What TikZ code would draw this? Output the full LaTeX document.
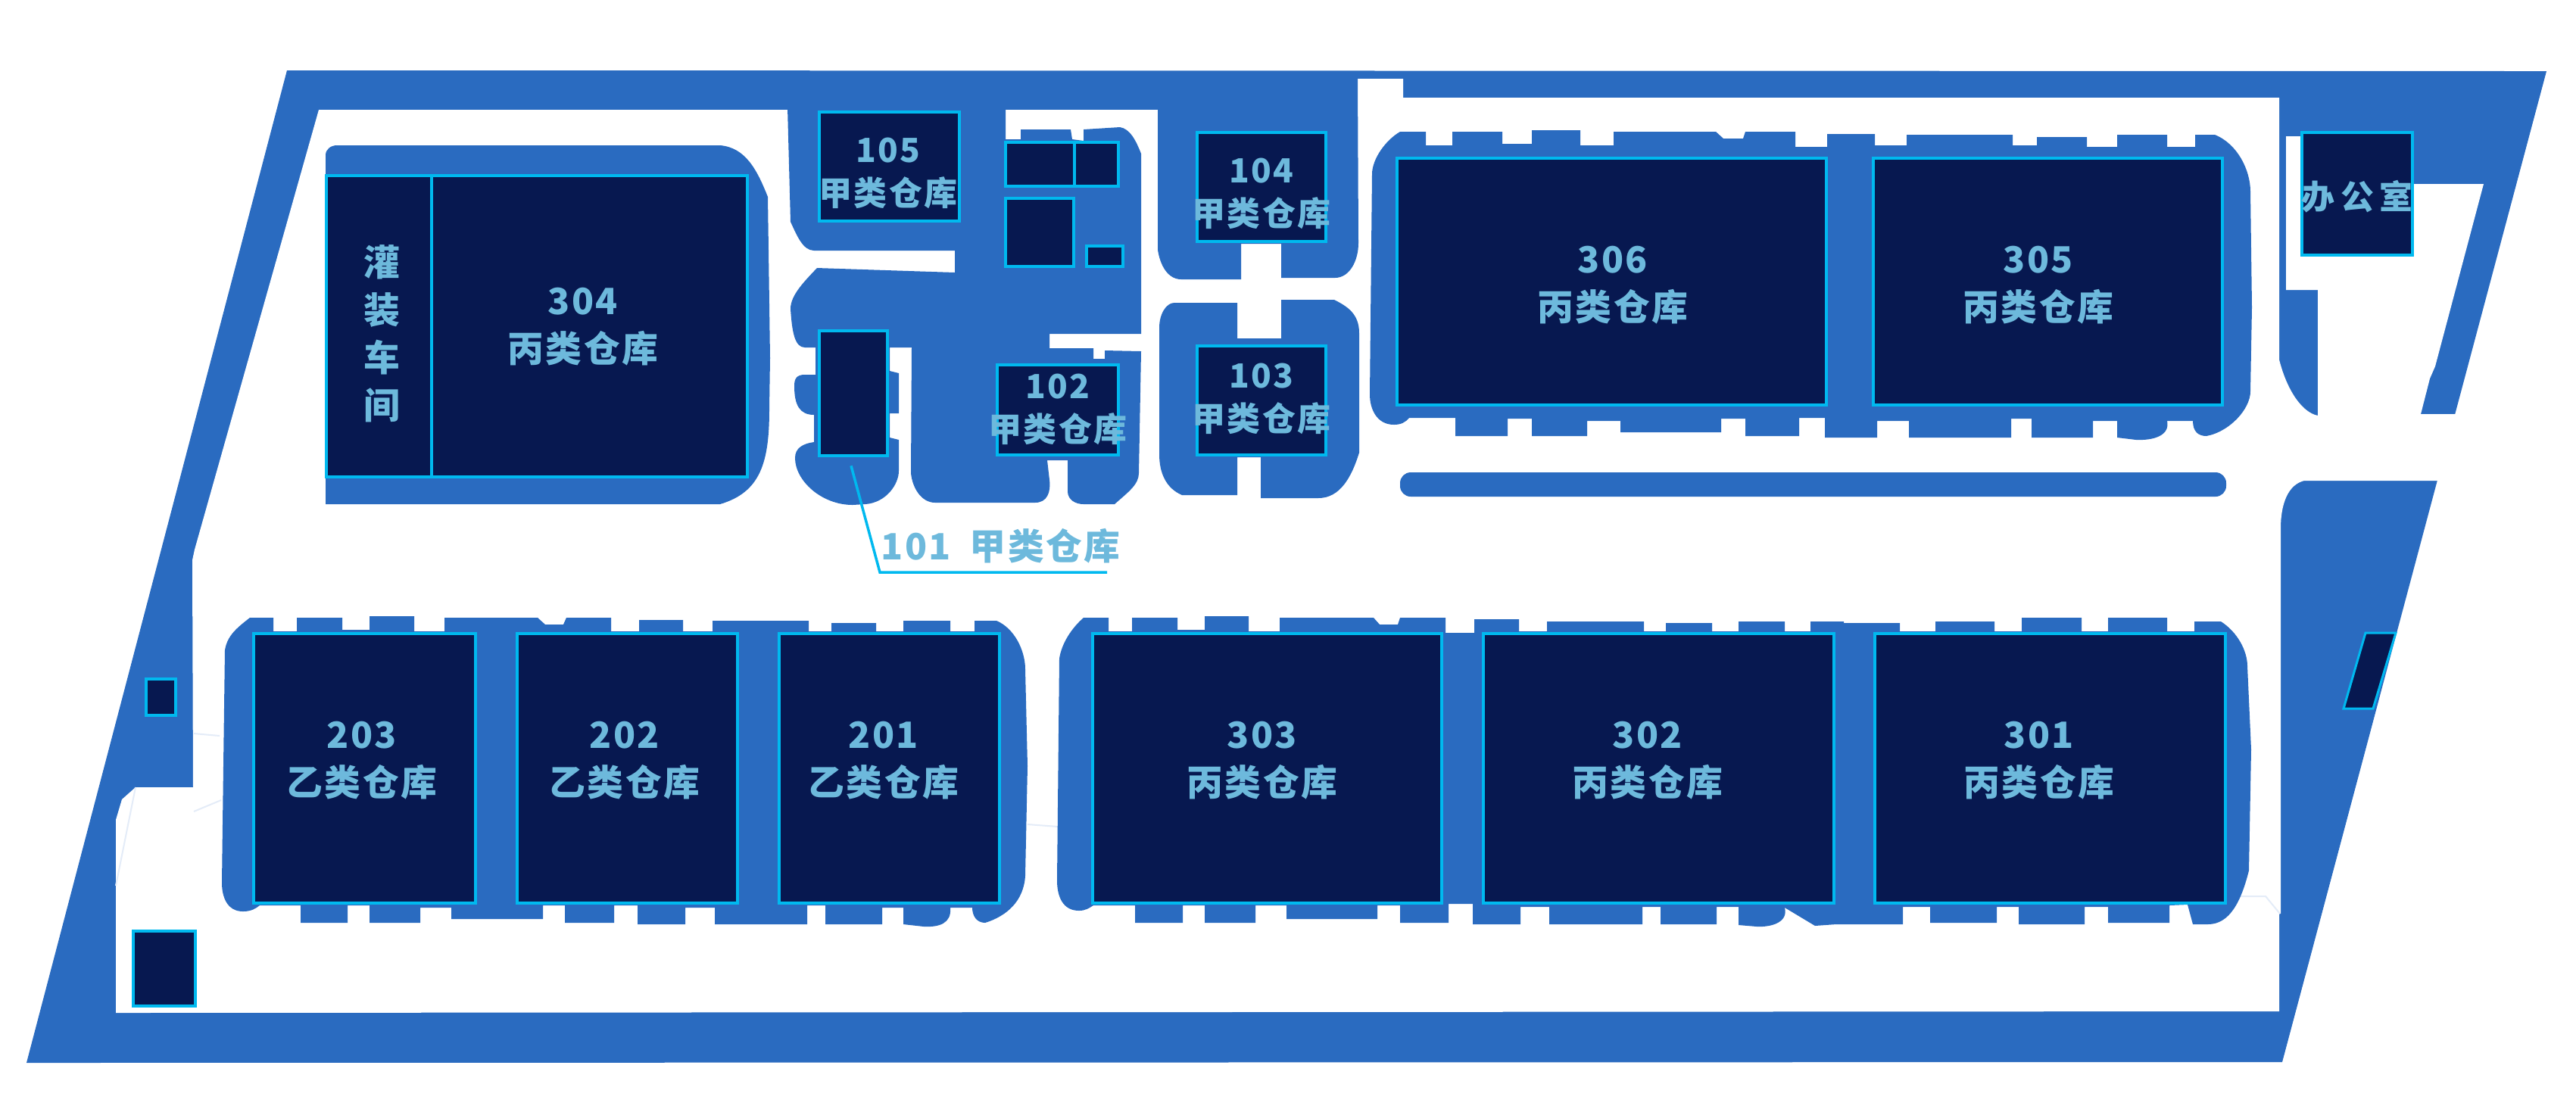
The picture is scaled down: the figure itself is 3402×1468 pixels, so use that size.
\documentclass[tikz,border=0pt]{standalone}
\usepackage{fontspec}
\setmainfont{Noto Sans CJK SC}[LetterSpace=5]
\definecolor{padblue}{HTML}{2A6BC0}
\definecolor{navyfill}{HTML}{071850}
\definecolor{edgecyan}{HTML}{00B9EF}
\definecolor{labblue}{HTML}{6DB9DC}
\definecolor{paleline}{HTML}{E4ECF8}
\begin{document}
\begin{tikzpicture}[
  x=0.01cm, y=-0.01cm,
  pad/.style={fill=padblue},
  road/.style={fill=white},
  ware/.style 2 args={draw=edgecyan,fill=navyfill,line width=0.046cm,inner sep=0pt,
    minimum width=#1*0.01cm,minimum height=#2*0.01cm},
  lab/.style={font=\fontsize{13.6}{17.9}\selectfont\bfseries,text=labblue,align=center,inner sep=0pt},
  labsmall/.style={font=\fontsize{12.5}{16.2}\selectfont\bfseries,text=labblue,align=center,inner sep=0pt},
  leader/.style={draw=edgecyan,line width=0.035cm},
  faint/.style={draw=paleline,line width=0.02cm}
]
  \useasboundingbox (0,0) rectangle (3402,1468);
  % --- ground ---
  \fill[pad] (379,93) -- (3363,94) -- (3014,1403) -- (35,1404) -- cycle;
  \fill[road] (421,145) -- (1793,145) -- (1793,104) -- (1853,104) -- (1853,129) -- (3010,129)
    -- (3010,475) .. controls (3020,515) and (3040,545) .. (3061,549)
    -- (3061,383) -- (3019,383) -- (3019,180) -- (3100,180) -- (3100,243) -- (3280,243)
    -- (3216,484) -- (3209,500) -- (3197,547) -- (3400,547) -- (3400,635) -- (3043,635)
    .. controls (3022,640) and (3012,665) .. (3012,698)
    -- (3012,1207) -- (3010,1207) -- (3010,1336) -- (153,1338) -- (153,1083) -- (161,1056)
    -- (179,1040) -- (255,1040) -- (254,740) -- (257,726) -- cycle;
  \draw[faint] (2957,1184) -- (2992,1184) -- (3011,1207);
  \draw[faint] (256,969) -- (290,972);
  \draw[faint] (179,1040) -- (153,1170);
  \draw[faint] (256,1072) -- (292,1057);
  \draw[faint] (1357,1089) -- (1397,1092);
  % --- 304 block ---
  \fill[pad] (430,205) .. controls (430,197) and (437,192) .. (445,192) -- (951,192)
    .. controls (985,195) and (1000,225) .. (1014,260) -- (1017,473) -- (1016,540)
    .. controls (1016,610) and (1005,650) .. (951,666) -- (430,666) -- cycle;
  % --- middle blocks ---
  \fill[pad] (1039,104) -- (1044,293) .. controls (1052,310) and (1060,331) .. (1075,331)
    -- (1261,331) -- (1261,360) -- (1079,354) .. controls (1062,372) and (1044,390) .. (1044,408)
    .. controls (1046,440) and (1050,459) .. (1063,459) -- (1077,459) -- (1077,495) -- (1063,495)
    .. controls (1052,495) and (1049,500) .. (1049,510) .. controls (1049,535) and (1056,548) .. (1075,548)
    -- (1075,584) .. controls (1060,586) and (1050,592) .. (1050,605)
    .. controls (1050,635) and (1085,667) .. (1126,667) -- (1143,666)
    .. controls (1170,664) and (1187,640) .. (1187,622) -- (1187,581) -- (1175,578) -- (1175,546)
    -- (1187,546) -- (1187,493) -- (1175,490) -- (1175,459) -- (1204,459) -- (1203,625)
    .. controls (1205,645) and (1217,664) .. (1235,664) -- (1367,664)
    .. controls (1383,664) and (1388,650) .. (1386,634) -- (1383,608) -- (1410,608) -- (1410,649)
    .. controls (1410,660) and (1420,666) .. (1431,666) -- (1472,666)
    .. controls (1490,650) and (1504,640) .. (1504,625) -- (1507,464) -- (1459,463) -- (1459,474)
    -- (1444,474) -- (1444,460) -- (1386,460) -- (1386,441) -- (1507,441) -- (1507,203)
    .. controls (1500,185) and (1492,170) .. (1479,168) -- (1431,171) -- (1431,186) -- (1416,184)
    -- (1414,171) -- (1348,171) -- (1348,184) -- (1328,184) -- (1328,139) -- (1529,139) -- (1529,330)
    .. controls (1532,350) and (1542,369) .. (1560,369) -- (1639,369) -- (1639,322) -- (1692,322)
    -- (1692,367) -- (1763,367) .. controls (1782,367) and (1794,345) .. (1794,321) -- (1793,104) -- cycle;
  \fill[pad] (1551,400) -- (1634,400) -- (1634,447) -- (1692,447) -- (1692,396) -- (1762,396)
    .. controls (1780,405) and (1795,415) .. (1795,440) -- (1795,598)
    .. controls (1785,630) and (1770,658) .. (1741,658) -- (1665,658) -- (1665,604) -- (1634,604)
    -- (1634,654) -- (1561,654) .. controls (1540,645) and (1531,625) .. (1531,600) -- (1531,433)
    .. controls (1531,415) and (1540,400) .. (1551,400) -- cycle;
  % --- 306 305 block ---
  \fill[pad] (1812,230) .. controls (1812,210) and (1830,185) .. (1849,174) -- (1883,174) -- (1883,192)
    -- (1918,192) -- (1918,174) -- (1984,174) -- (1984,190) -- (2023,190) -- (2023,172) -- (2087,172)
    -- (2087,192) -- (2131,192) -- (2131,174) -- (2266,174) -- (2276,183) -- (2302,183) -- (2305,174)
    -- (2371,174) -- (2371,194) -- (2413,194) -- (2413,177) -- (2476,177) -- (2476,192) -- (2518,192)
    -- (2518,178) -- (2658,178) -- (2658,192) -- (2690,192) -- (2690,181) -- (2756,181) -- (2756,194)
    -- (2796,194) -- (2796,178) -- (2862,178) -- (2862,194) -- (2899,194) -- (2899,178) -- (2925,178)
    .. controls (2955,190) and (2972,225) .. (2972,253) -- (2974,406) -- (2972,517)
    .. controls (2972,540) and (2945,570) .. (2914,576) .. controls (2903,576) and (2896,570) .. (2896,556)
    -- (2862,556) .. controls (2866,575) and (2845,582) .. (2821,581) -- (2796,578) -- (2796,556)
    -- (2764,556) -- (2764,578) -- (2683,578) -- (2683,553) -- (2656,553) -- (2656,578) -- (2521,578)
    -- (2521,556) -- (2479,556) -- (2479,578) -- (2410,578) -- (2410,552) -- (2376,552) -- (2376,576)
    -- (2305,576) -- (2305,553) -- (2273,553) -- (2273,571) -- (2140,571) -- (2140,556) -- (2096,556)
    -- (2096,576) -- (2023,576) -- (2023,553) -- (1991,553) -- (1991,576) -- (1922,576) -- (1922,552)
    -- (1861,552) .. controls (1856,558) and (1850,561) .. (1841,561)
    .. controls (1818,561) and (1809,540) .. (1809,521) -- cycle;
  \fill[pad, rounded corners=0.14cm] (1849,624) rectangle (2940,656);
  % --- 203 202 201 block ---
  \fill[pad] (297,859) .. controls (300,840) and (312,830) .. (330,816) -- (361,816) -- (361,834) -- (392,834)
    -- (392,816) -- (452,816) -- (452,832) -- (488,832) -- (488,814) -- (547,814) -- (547,834) -- (587,834)
    -- (587,816) -- (710,816) -- (720,825) -- (744,825) -- (748,816) -- (807,816) -- (807,834) -- (844,834)
    -- (844,819) -- (902,819) -- (902,834) -- (941,834) -- (941,820) -- (1068,820) -- (1068,834) -- (1098,834)
    -- (1098,823) -- (1157,823) -- (1157,834) -- (1193,834) -- (1193,820) -- (1255,820) -- (1255,834)
    -- (1287,834) -- (1287,820) -- (1316,820) .. controls (1340,830) and (1354,860) .. (1354,884)
    -- (1357,1012) -- (1354,1157) .. controls (1352,1190) and (1330,1210) .. (1301,1219)
    .. controls (1290,1219) and (1284,1210) .. (1284,1199) -- (1255,1199)
    .. controls (1257,1220) and (1240,1225) .. (1220,1224) -- (1193,1221) -- (1193,1199) -- (1165,1199)
    -- (1165,1221) -- (1090,1221) -- (1090,1196) -- (1066,1196) -- (1066,1221) -- (944,1221) -- (944,1199)
    -- (905,1199) -- (905,1221) -- (842,1221) -- (842,1196) -- (811,1196) -- (811,1219) -- (746,1219)
    -- (746,1196) -- (717,1196) -- (717,1214) -- (596,1214) -- (596,1199) -- (555,1199) -- (555,1219)
    -- (488,1219) -- (488,1196) -- (459,1196) -- (459,1219) -- (397,1219) -- (397,1196) -- (343,1196)
    .. controls (338,1200) and (332,1204) .. (321,1204) .. controls (300,1204) and (293,1185) .. (293,1166) -- cycle;
  % --- 303 302 301 block ---
  \fill[pad] (1399,870) .. controls (1402,850) and (1415,830) .. (1431,816) -- (1464,816) -- (1464,834)
    -- (1495,834) -- (1495,816) -- (1555,816) -- (1555,832) -- (1591,832) -- (1591,814) -- (1649,814)
    -- (1649,834) -- (1690,834) -- (1690,816) -- (1814,816) -- (1822,825) -- (1846,825) -- (1849,816)
    -- (1909,816) -- (1909,836) -- (1947,836) -- (1947,818) -- (2006,818) -- (2006,834) -- (2043,834)
    -- (2043,821) -- (2171,821) -- (2171,834) -- (2200,834) -- (2200,823) -- (2261,823) -- (2261,834)
    -- (2296,834) -- (2296,821) -- (2357,821) -- (2357,834) -- (2391,834) -- (2391,821) -- (2435,821)
    -- (2435,823) -- (2509,823) -- (2509,834) -- (2556,834) -- (2556,821) -- (2634,821) -- (2634,834)
    -- (2670,834) -- (2670,816) -- (2749,816) -- (2749,834) -- (2784,834) -- (2784,816) -- (2862,816)
    -- (2862,834) -- (2898,834) -- (2898,821) -- (2933,821) .. controls (2955,835) and (2968,860) .. (2968,880)
    -- (2973,990) -- (2970,1150) .. controls (2960,1190) and (2945,1221) .. (2916,1221) -- (2896,1221)
    -- (2889,1195) -- (2865,1196) -- (2865,1219) -- (2784,1219) -- (2784,1198) -- (2753,1198) -- (2753,1221)
    -- (2666,1221) -- (2666,1198) -- (2637,1198) -- (2637,1219) -- (2549,1219) -- (2549,1198) -- (2513,1198)
    -- (2513,1221) -- (2425,1221) -- (2397,1223) -- (2357,1199)
    .. controls (2362,1218) and (2340,1225) .. (2320,1224) -- (2296,1222) -- (2296,1198) -- (2267,1198)
    -- (2267,1221) -- (2193,1221) -- (2193,1198) -- (2169,1198) -- (2169,1221) -- (2046,1221) -- (2046,1198)
    -- (2008,1198) -- (2008,1221) -- (1945,1221) -- (1945,1194) -- (1913,1194) -- (1913,1219) -- (1849,1219)
    -- (1849,1196) -- (1819,1196) -- (1819,1214) -- (1699,1214) -- (1699,1196) -- (1658,1196) -- (1658,1219)
    -- (1591,1219) -- (1591,1196) -- (1562,1196) -- (1562,1219) -- (1499,1219) -- (1499,1196) -- (1444,1196)
    .. controls (1438,1200) and (1433,1203) .. (1425,1203) .. controls (1404,1203) and (1396,1185) .. (1396,1163) -- cycle;
  % --- buildings ---
  \node[ware={139}{398}] (bfill) at (500.5,431) {};
  \node[ware={417}{398}] (b304) at (778.5,431) {};
  \node[ware={185}{144}] (b105) at (1174.5,220) {};
  \node[ware={90}{165}] (b101) at (1127,519.5) {};
  \node[ware={160}{119}] (b102) at (1397,541.5) {};
  \node[ware={170}{144}] (b103) at (1666,529) {};
  \node[ware={170}{144}] (b104) at (1666,247) {};
  \node[ware={91}{58}] (sa) at (1373.5,217) {};
  \node[ware={58}{58}] (sb) at (1448,217) {};
  \node[ware={90}{90}] (sc) at (1373,307) {};
  \node[ware={48}{27}] (sd) at (1459,338.5) {};
  \node[ware={567}{326}] (b306) at (2128.5,372) {};
  \node[ware={461}{326}] (b305) at (2704.5,372) {};
  \node[ware={146}{162}] (boffice) at (3113,256) {};
  \node[ware={293}{356}] (b203) at (481.5,1015) {};
  \node[ware={291}{356}] (b202) at (828.5,1015) {};
  \node[ware={291}{356}] (b201) at (1174.5,1015) {};
  \node[ware={461}{356}] (b303) at (1673.5,1015) {};
  \node[ware={463}{356}] (b302) at (2190.5,1015) {};
  \node[ware={463}{356}] (b301) at (2707.5,1015) {};
  \node[ware={39}{48}] (se) at (212.5,921) {};
  \node[ware={82}{99}] (sf) at (217,1279.5) {};
  \draw[draw=edgecyan,fill=navyfill,line width=0.03cm] (3124,836) -- (3164,836) -- (3134,936) -- (3095,936) -- cycle;
  % --- labels ---
  \node[lab] (tfill) at (504,441) {灌\\装\\车\\间};
  \node[lab] (t304) at (770,432) {304\\丙类仓库};
  \node[labsmall] (t105) at (1173,229) {105\\甲类仓库};
  \node[labsmall] (t104) at (1666,256) {104\\甲类仓库};
  \node[labsmall] (t103) at (1666,527) {103\\甲类仓库};
  \node[labsmall] (t102) at (1397,541) {102\\甲类仓库};
  \node[lab] (t306) at (2130,377) {306\\丙类仓库};
  \node[lab] (t305) at (2692,377) {305\\丙类仓库};
  \node[lab] (t203) at (478,1005) {203\\乙类仓库};
  \node[lab] (t202) at (825,1005) {202\\乙类仓库};
  \node[lab] (t201) at (1167,1005) {201\\乙类仓库};
  \node[lab] (t303) at (1667,1005) {303\\丙类仓库};
  \node[lab] (t302) at (2176,1005) {302\\丙类仓库};
  \node[lab] (t301) at (2693,1005) {301\\丙类仓库};
  \node[labsmall] (toffice) at (3113,260) {\addfontfeature{LetterSpace=18}办公室};
  \node[lab,anchor=west] (t101) at (1163,721) {101\hspace{0.25cm}甲类仓库};
  % --- leader to 101 ---
  \coordinate (leadknee) at (1162,756);
  \coordinate (leadend) at (1462,756);
  \draw[leader] ([shift={(-3,11)}]b101.south) -- (leadknee) -- (leadend);
\end{tikzpicture}
\end{document}
